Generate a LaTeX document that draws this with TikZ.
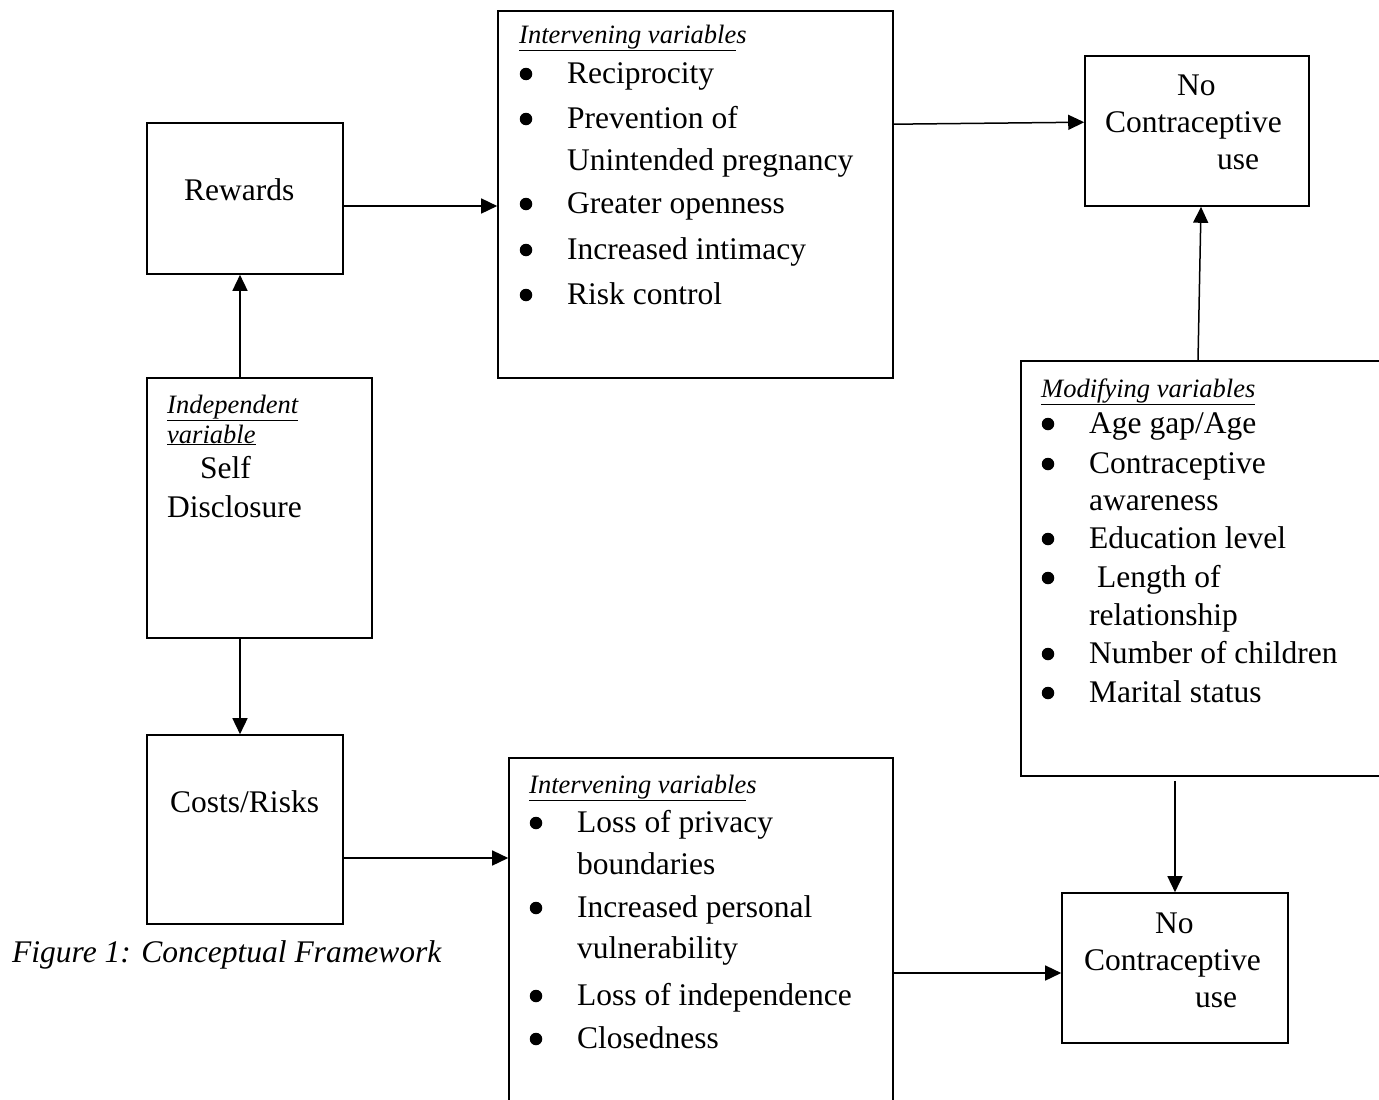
\documentclass[tikz,border=0pt]{standalone}
\usepackage{fontspec}
\setmainfont{Liberation Serif}
\usetikzlibrary{arrows.meta,calc}
\begin{document}
\begin{tikzpicture}[x=1pt,y=-1pt,
  box/.style={draw,line width=1.6pt,rectangle,inner sep=0pt,minimum width=#1},
  arr/.style={line width=1.5pt,-{Triangle[length=16pt,width=15pt]}},
  txt/.style={anchor=base west,inner sep=0pt,font=\fontsize{31.5}{36}\selectfont},
  hdr/.style={anchor=base west,inner sep=0pt,font=\fontsize{26.5}{30}\selectfont\itshape},
  bdot/.style={circle,fill,inner sep=0pt,minimum size=12.5pt}]
\clip (0,0) rectangle (1379,1100);
\fill[white] (0,0) rectangle (1379,1100);
% boxes
\node[box=196pt,minimum height=151pt] (rewards) at (245,198.5) {};
\node[box=395pt,minimum height=367pt] (int1) at (695.5,194.5) {};
\node[box=224pt,minimum height=150pt] (noc1) at (1197,131) {};
\node[box=380pt,minimum height=415pt] (mod) at (1211,568.5) {};
\node[box=225pt,minimum height=260pt] (self) at (259.5,508) {};
\node[box=196pt,minimum height=189pt] (costs) at (245,829.5) {};
\node[box=384pt,minimum height=362pt] (int2) at (701,939) {};
\node[box=226pt,minimum height=150pt] (noc2) at (1175,968) {};
% texts
\node[txt] (tRew) at (184,200) {Rewards};
\node[hdr] (h1) at (519,43) {\underline{Intervening variable}s};
\node[bdot] (b11) at (526,74) {};
\node[txt] (t11) at (567,83) {Reciprocity};
\node[bdot] (b12) at (526,119) {};
\node[txt] (t12) at (567,128) {Prevention of};
\node[txt] (t12b) at (567,170) {Unintended pregnancy};
\node[bdot] (b13) at (526,204) {};
\node[txt] (t13) at (567,213) {Greater openness};
\node[bdot] (b14) at (526,250) {};
\node[txt] (t14) at (567,259) {Increased intimacy};
\node[bdot] (b15) at (526,295) {};
\node[txt] (t15) at (567,304) {Risk control};
\node[txt] (n1a) at (1177,95) {No};
\node[txt] (n1b) at (1105,132) {Contraceptive};
\node[txt] (n1c) at (1217,169) {use};
\node[hdr] (hm) at (1041,397) {\underline{Modifying variables}};
\node[bdot] (bm1) at (1048,424) {};
\node[txt] (tm1) at (1089,433) {Age gap/Age};
\node[bdot] (bm2) at (1048,464) {};
\node[txt] (tm2) at (1089,473) {Contraceptive};
\node[txt] (tm2b) at (1089,510) {awareness};
\node[bdot] (bm3) at (1048,539) {};
\node[txt] (tm3) at (1089,548) {Education level};
\node[bdot] (bm4) at (1048,578) {};
\node[txt] (tm4) at (1097,587) {Length of};
\node[txt] (tm4b) at (1089,625) {relationship};
\node[bdot] (bm5) at (1048,654) {};
\node[txt] (tm5) at (1089,663) {Number of children};
\node[bdot] (bm6) at (1048,693) {};
\node[txt] (tm6) at (1089,702) {Marital status};
\node[hdr] (hs1) at (167,413) {\underline{Independent}};
\node[hdr] (hs2) at (167,443) {\underline{variable}};
\node[txt] (ts1) at (200,478) {Self};
\node[txt] (ts2) at (167,517) {Disclosure};
\node[txt] (tc) at (170,812) {Costs/Risks};
\node[hdr] (h2) at (529,793) {\underline{Intervening variable}s};
\node[bdot] (b21) at (536,823) {};
\node[txt] (t21) at (577,832) {Loss of privacy};
\node[txt] (t21b) at (577,874) {boundaries};
\node[bdot] (b22) at (536,908) {};
\node[txt] (t22) at (577,917) {Increased personal};
\node[txt] (t22b) at (577,958) {vulnerability};
\node[bdot] (b23) at (536,996) {};
\node[txt] (t23) at (577,1005) {Loss of independence};
\node[bdot] (b24) at (536,1039) {};
\node[txt] (t24) at (577,1048) {Closedness};
\node[txt] (n2a) at (1155,933) {No};
\node[txt] (n2b) at (1084,970) {Contraceptive};
\node[txt] (n2c) at (1195,1007) {use};
\node[txt,font=\fontsize{31.5}{36}\selectfont\itshape] (cap) at (12,962) {Figure 1: Conceptual Framework};
% connectors
\coordinate (r1) at ([yshift=-7.5pt]rewards.east);
\draw[arr] (r1) -- (r1 -| int1.west);
\coordinate (s1) at ([xshift=-19.5pt]self.north);
\draw[arr] (s1) -- (s1 |- rewards.south);
\coordinate (s2) at ([xshift=-19.5pt]self.south);
\draw[arr] (s2) -- (s2 |- costs.north);
\coordinate (c1) at ([yshift=-28.5pt]costs.east);
\draw[arr] (c1) -- (c1 -| int2.west);
\coordinate (i1) at ([yshift=-114pt]int1.north east);
\coordinate (nc1) at ([yshift=-67pt]noc1.north west);
\draw[arr] (i1) -- (nc1);
\coordinate (m1) at ([xshift=-13pt]mod.north);
\coordinate (nc2) at ([xshift=4pt]noc1.south);
\draw[arr] (m1) -- (nc2);
\coordinate (m2) at ([xshift=-36pt,yshift=-4pt]mod.south);
\draw[arr] (m2) -- (m2 |- noc2.north);
\coordinate (i2) at ([yshift=-34pt]int2.east);
\draw[arr] (i2) -- (i2 -| noc2.west);
\end{tikzpicture}
\end{document}
